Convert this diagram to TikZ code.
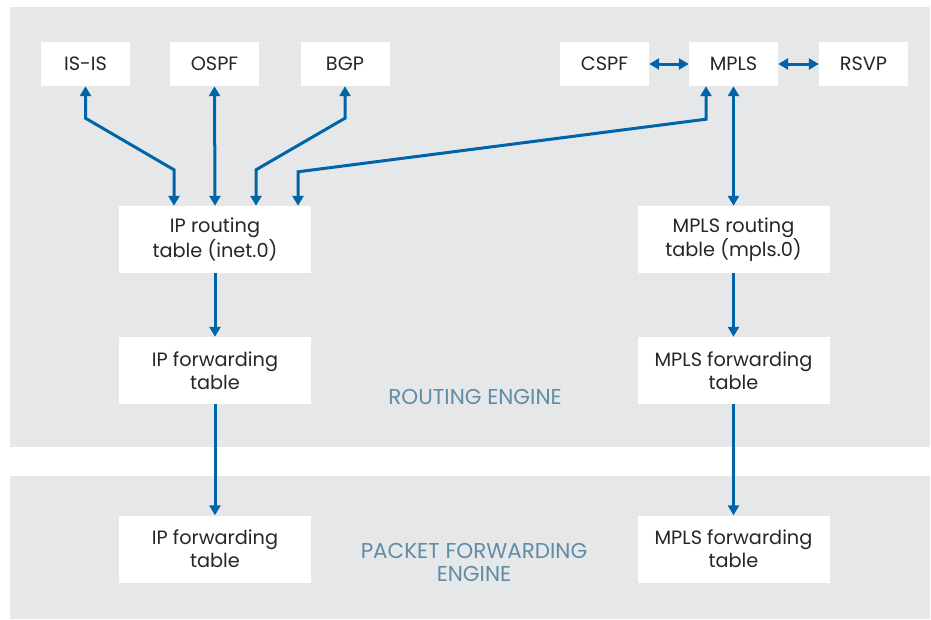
\documentclass[tikz,border=0pt]{standalone}
\usepackage{fontspec}
\setmainfont{Poppins}
\usetikzlibrary{arrows.meta}

\definecolor{jblue}{RGB}{0,101,168}
\definecolor{panelgray}{RGB}{230,231,233}
\definecolor{enginetext}{RGB}{96,140,168}

\tikzset{
  box/.style={fill=white, minimum width=89pt, minimum height=44pt, inner sep=0pt, font=\fontsize{19.3}{23}\selectfont, text=black!85},
  bigbox/.style={box, minimum width=192pt, minimum height=67pt, align=center},
  link/.style={jblue, line width=3pt, -{Triangle[length=10pt,width=11pt]}},
  dlink/.style={link, {Triangle[length=10pt,width=11pt]}-{Triangle[length=10pt,width=11pt]}},
  engine/.style={text=enginetext, font=\fontsize{21.5}{23}\selectfont, align=center}
}

\begin{document}
\begin{tikzpicture}[x=1pt, y=-1pt]

        \useasboundingbox (0,0) rectangle (931,619);

        % Panels
        \fill[panelgray] (10,7) rectangle (930,447);
        \fill[panelgray] (10,476) rectangle (930,619);

        % Protocols
        \node[box] (isis) at (85.5,64) {IS-IS};
        \node[box] (ospf) at (214.5,64) {OSPF};
        \node[box] (bgp) at (345,64) {BGP};
        \node[box] (cspf) at (604.5,64) {CSPF};
        \node[box] (mpls) at (733.5,64) {MPLS};
        \node[box] (rsvp) at (863.5,64) {RSVP};

        % Routing engine tables
        \node[bigbox] (iprt) at (215,239.5) {IP routing\\table (inet.0)};
        \node[bigbox] (ipfw) at (215,370.5) {IP forwarding\\table};
        \node[bigbox] (mplsrt) at (733.5,239.5) {MPLS routing\\table (mpls.0)};
        \node[bigbox] (mplsfw) at (733.5,370.5) {MPLS forwarding\\table};
        \node[engine] (relabel) at (475,397) {ROUTING ENGINE};

        % Packet forwarding engine tables
        \node[bigbox] (pfeip) at (215,549) {IP forwarding\\table};
        \node[bigbox] (pfempls) at (733.5,549) {MPLS forwarding\\table};
        \node[engine] (pfelabel) at (474,562) {PACKET FORWARDING\\ENGINE};

        % Protocols to IP routing table
        \draw[dlink] (isis.south) -- ++(0,32) -- ([xshift=-41pt,yshift=36pt]iprt.north) -- ([xshift=-41pt]iprt.north);
        \draw[dlink] (ospf.south) -- (iprt.north);
        \draw[dlink] (bgp.south) -- ++(0,32) -- ([xshift=41pt,yshift=36pt]iprt.north) -- ([xshift=41pt]iprt.north);
        \draw[dlink] ([xshift=-27.5pt]mpls.south) -- ++(0,33) -- ([xshift=83pt,yshift=34pt]iprt.north) -- ([xshift=83pt]iprt.north);

        % MPLS side
        \draw[dlink] (cspf.east) -- (mpls.west);
        \draw[dlink] (mpls.east) -- (rsvp.west);
        \draw[dlink] (mpls.south) -- (mplsrt.north);

        % Down to forwarding tables
        \draw[link] (iprt.south) -- (ipfw.north);
        \draw[link] (ipfw.south) -- (pfeip.north);
        \draw[link] (mplsrt.south) -- (mplsfw.north);
        \draw[link] (mplsfw.south) -- (pfempls.north);

    \end{tikzpicture}
\end{document}
